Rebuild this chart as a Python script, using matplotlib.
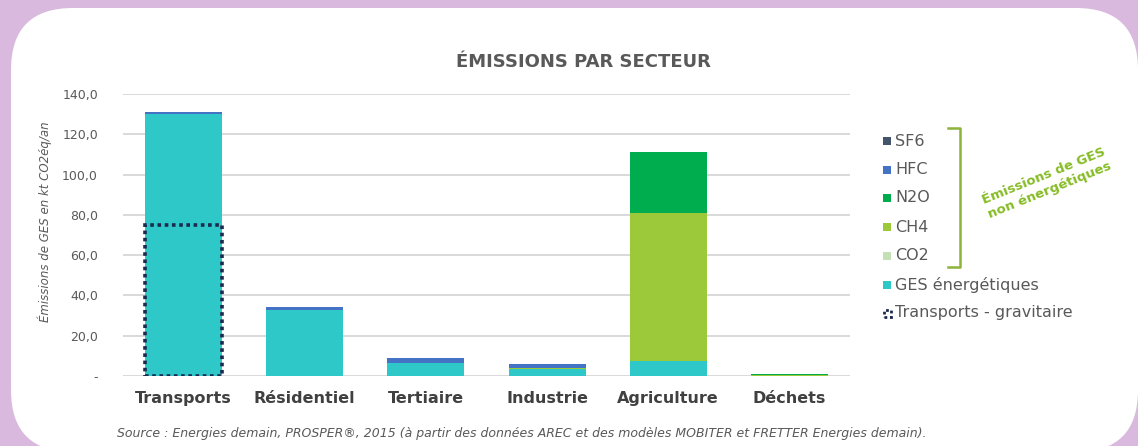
import matplotlib
matplotlib.use("Agg")
import matplotlib.pyplot as plt
from matplotlib.patches import FancyBboxPatch, Rectangle
from matplotlib.lines import Line2D
import numpy as np

# ---------------- data ----------------
categories = ['Transports', 'Résidentiel', 'Tertiaire', 'Industrie', 'Agriculture', 'Déchets']
ges_energetiques = [130.0, 32.8, 6.5, 3.4, 7.5, 0.0]
co2 = [0.0, 0.0, 0.0, 0.0, 0.0, 0.0]
ch4 = [0.0, 0.0, 0.0, 0.4, 73.2, 0.6]
n2o = [0.0, 0.0, 0.0, 0.0, 30.4, 0.5]
hfc = [1.2, 1.3, 2.3, 2.2, 0.0, 0.0]
sf6 = [0.0, 0.0, 0.0, 0.0, 0.0, 0.0]
transports_gravitaire = [75.0, 0, 0, 0, 0, 0]
yticks = [0, 20, 40, 60, 80, 100, 120, 140]
ytick_labels = ['-', '20,0', '40,0', '60,0', '80,0', '100,0', '120,0', '140,0']

legend_labels = ['SF6', 'HFC', 'N2O', 'CH4', 'CO2', 'GES énergétiques', 'Transports - gravitaire']

# ---------------- style ----------------
C_GES = '#2EC8C8'
C_CO2 = '#C5E0B4'
C_CH4 = '#9BC93A'
C_N2O = '#00AD4E'
C_HFC = '#4472C4'
C_SF6 = '#44546A'
C_GRAV = '#1B2A4E'
TXT = '#595959'
LILAC = '#DAB9DF'
GREEN_TXT = '#86BC25'

W, H = 1138, 446
fig = plt.figure(figsize=(W / 100, H / 100), dpi=100)
fig.patch.set_facecolor(LILAC)

def px(x, y):
    return x / W, 1 - y / H

# white rounded panel
panel = FancyBboxPatch((0.11, -0.06), 11.27, 4.44,
                       boxstyle="round,pad=0,rounding_size=0.62",
                       transform=fig.dpi_scale_trans, facecolor='white',
                       edgecolor='none', zorder=-10)
fig.patches.append(panel)

left, right, top, bottom = 123, 850, 94, 376
ax = fig.add_axes([left / W, 1 - bottom / H, (right - left) / W, (bottom - top) / H])
ax.set_zorder(1)
ax.set_facecolor('none')
x = np.arange(len(categories))
bw = 0.635

series = [(ges_energetiques, C_GES), (co2, C_CO2), (ch4, C_CH4), (n2o, C_N2O),
          (hfc, C_HFC), (sf6, C_SF6)]
base = np.zeros(len(categories))
for vals, col in series:
    v = np.array(vals, dtype=float)
    ax.bar(x, v, bw, bottom=base, color=col, edgecolor='none', zorder=3)
    base += v

# transports - gravitaire dotted outline
grav = np.array(transports_gravitaire, dtype=float)
mask = grav > 0
ax.bar(x[mask], grav[mask], bw, fill=False, edgecolor=C_GRAV,
       linewidth=2.6, linestyle=(0, (1, 1)), zorder=4)

ax.set_xlim(-0.5, len(categories) - 0.5)
ax.set_ylim(0, 140)
ax.set_yticks(yticks)
ax.set_yticklabels(ytick_labels)
ax.grid(axis='y', color='#D9D9D9', linewidth=1.4, zorder=0)
ax.set_axisbelow(True)
for s in ax.spines.values():
    s.set_visible(False)
ax.tick_params(axis='y', length=0, pad=18, labelsize=9, labelcolor=TXT)
ax.tick_params(axis='x', length=0, pad=11)
ax.set_xticks(x)
ax.set_xticklabels(categories, fontsize=11.5, fontweight='bold', color='#404040')

# y label
fig.text(*px(45, 222), 'Émissions de GES en kt CO2éq/an', rotation=90,
         ha='center', va='center', fontsize=8.5, style='italic', color=TXT)

# title
fig.text(*px(583, 62), 'ÉMISSIONS PAR SECTEUR', ha='center', va='center',
         fontsize=13, fontweight='bold', color=TXT)

# legend (manual)
leg_colors = [C_SF6, C_HFC, C_N2O, C_CH4, C_CO2, C_GES]
leg_y = [141, 170, 198, 227, 256, 285, 313]
for i, lab in enumerate(legend_labels):
    yc = leg_y[i]
    if i < len(leg_colors):
        r = Rectangle(px(883, yc + 4), 8 / W, 8 / H, transform=fig.transFigure,
                      facecolor=leg_colors[i], edgecolor='none')
    else:
        r = Rectangle(px(884, yc + 3.5), 7 / W, 7 / H, transform=fig.transFigure,
                      facecolor='none', edgecolor=C_GRAV, linewidth=2.0,
                      linestyle=(0, (1, 1)))
    fig.patches.append(r)
    fig.text(*px(895, yc), lab, ha='left', va='center', fontsize=11.5, color=TXT)

# bracket
bx0, bx1, by0, by1 = 948, 960, 128, 267
fig.add_artist(Line2D([bx0 / W, bx1 / W, bx1 / W, bx0 / W],
                      [1 - by0 / H, 1 - by0 / H, 1 - by1 / H, 1 - by1 / H],
                      transform=fig.transFigure, color='#8DB33A', linewidth=1.8))

fig.text(*px(1047, 183), 'Émissions de GES\nnon énergétiques', rotation=22,
         ha='center', va='center', multialignment='center', linespacing=1.2,
         fontsize=9.5, fontweight='bold', color=GREEN_TXT, rotation_mode='anchor')

# source
fig.text(*px(522, 433), 'Source : Energies demain, PROSPER®, 2015 (à partir des données AREC '
         'et des modèles MOBITER et FRETTER Energies demain).',
         ha='center', va='center', fontsize=9, style='italic', color=TXT)

fig.savefig('out.png', dpi=100, facecolor=fig.get_facecolor())
